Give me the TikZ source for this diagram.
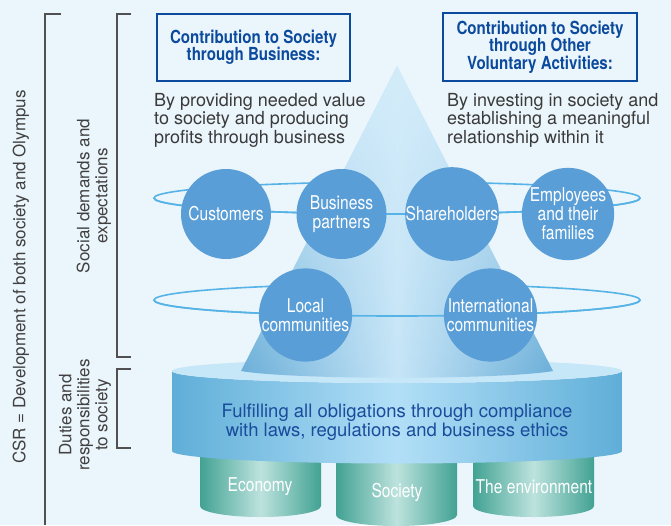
\documentclass[tikz,border=0pt]{standalone}
\usepackage{fontspec}
\setmainfont{TeX Gyre Heros}
\newfontfamily\condf[FakeStretch=0.82]{TeX Gyre Heros}
\newfontfamily\condt[FakeStretch=0.84]{TeX Gyre Heros}
\usetikzlibrary{fadings}
\definecolor{bg}{HTML}{EBF5FC}
\definecolor{brk}{HTML}{505050}
\definecolor{lbltext}{HTML}{404040}
\definecolor{navy}{HTML}{0B4A9C}
\definecolor{bodytext}{HTML}{3A3A3A}
\definecolor{coneedge}{HTML}{6AAED8}
\definecolor{conemid}{HTML}{C6E5F7}
\definecolor{conetop}{HTML}{D3ECFA}
\definecolor{ringc}{HTML}{55B3E6}
\definecolor{circc}{HTML}{5A9ED7}
\definecolor{cyledge}{HTML}{5FAED8}
\definecolor{cylmid}{HTML}{B2DFF7}
\definecolor{cyltop}{HTML}{C6E7F8}
\definecolor{cyltext}{HTML}{1A4C9C}
\definecolor{tealedge}{HTML}{42A293}
\definecolor{tealmid}{HTML}{BDE3DE}
\tikzfading[name=topfade, top color=transparent!0, bottom color=transparent!100]
\tikzset{
  brkline/.style={draw=brk, line width=1.2pt},
  lbl/.style={text=lbltext, font=\fontsize{17}{18}\selectfont, inner sep=0pt, align=center},
  titlebox/.style={draw=navy, line width=2.2pt, fill=bg, text=navy, align=center,
    font=\condt\bfseries\fontsize{18}{17.5}\selectfont, inner sep=0pt},
  bodyblock/.style={text=bodytext, font=\fontsize{18}{18.5}\selectfont, align=left, inner sep=0pt, anchor=north west},
  ringline/.style={draw=ringc, line width=1.6pt},
  circnode/.style={circle, fill=circc, minimum size=90pt, inner sep=0pt, text=white, align=center,
    font=\condf\fontsize{19}{19}\selectfont},
  cylside/.style={left color=cyledge, right color=cyledge, middle color=cylmid},
  tealside/.style={left color=tealedge, right color=tealedge, middle color=tealmid},
  tealtext/.style={text=white, font=\condf\fontsize{19}{19}\selectfont, inner sep=0pt},
  conefill/.style={left color=coneedge, right color=coneedge, middle color=conemid},
}
\begin{document}
\begin{tikzpicture}[x=1pt,y=-1pt]
\fill[bg] (0,0) rectangle (671,525);
\useasboundingbox (0,0) rectangle (671,525);

% brackets
\draw[brkline] (61,14) -- (45,14) -- (45,525);
\draw[brkline] (131,14) -- (117,14) -- (117,357) -- (131,357);
\draw[brkline] (131,369) -- (117,369) -- (117,448) -- (131,448);
\node[lbl, rotate=90] (csr) at (21,277) {CSR = Development of both society and Olympus};
\node[lbl, rotate=90] (socdem) at (94,196) {Social demands and\\expectations};
\node[lbl, rotate=90] (duties) at (85,415) {Duties and\\responsibilities\\to society};

% teal cylinders
\shade[tealside] (200,430) -- (200,506) arc[start angle=180, end angle=0, x radius=60.5, y radius=11] -- (321,430) -- cycle;
\shade[tealside] (336,430) -- (336,515) arc[start angle=180, end angle=0, x radius=60.5, y radius=11] -- (457,430) -- cycle;
\shade[tealside] (473,430) -- (473,506) arc[start angle=180, end angle=0, x radius=60.5, y radius=11] -- (594,430) -- cycle;
\node[tealtext] (econ) at (260,487) {Economy};
\node[tealtext] (soc) at (397,492) {Society};
\node[tealtext] (env) at (534,487) {The environment};

% big cylinder
\shade[cylside] (172,371) -- (172,451) arc[start angle=180, end angle=0, x radius=225, y radius=12.5]
  -- (622,371) arc[start angle=0, end angle=180, x radius=225, y radius=12] -- cycle;
\fill[cyltop] (397,371) ellipse [x radius=225, y radius=12];
\node[text=cyltext, font=\fontsize{18.5}{19}\selectfont, align=center, inner sep=0pt] (oblig) at (397,422)
  {Fulfilling all obligations through compliance\\with laws, regulations and business ethics};

% rings (back)
\draw[ringline] (397,198) ellipse [x radius=243, y radius=16];
\draw[ringline] (397,300) ellipse [x radius=243, y radius=16];

% cone
\shade[conefill] (397,66) -- (553,371) .. controls (501,380) and (293,380) .. (241,371) -- cycle;
\fill[conetop, path fading=topfade] (397,66) -- (553,371) .. controls (501,380) and (293,380) .. (241,371) -- cycle;

% rings (front)
\begin{scope}
\clip (0,198) rectangle (671,260);
\draw[ringline] (397,198) ellipse [x radius=243, y radius=16];
\end{scope}
\begin{scope}
\clip (0,300) rectangle (671,350);
\draw[ringline] (397,300) ellipse [x radius=243, y radius=16];
\end{scope}

% circles
\node[circnode] (cust) at (226,214) {Customers};
\node[circnode] (bp) at (341.5,214) {Business\\partners};
\node[circnode] (sh) at (452,214) {Shareholders};
\node[circnode] (emp) at (568,214) {Employees\\and their\\families};
\node[circnode] (local) at (305.5,315) {Local\\communities};
\node[circnode] (intl) at (490.5,315) {International\\communities};

% title boxes
\node[titlebox, minimum width=193pt, minimum height=67pt] (tb1) at (253.5,47.5) {Contribution to Society\\through Business:};
\node[titlebox, minimum width=194pt, minimum height=68pt] (tb2) at (540,47) {Contribution to Society\\through Other\\Voluntary Activities:};

% body text
\node[bodyblock] (body1) at (154,93) {By providing needed value\\to society and producing\\profits through business};
\node[bodyblock] (body2) at (447,93) {By investing in society and\\establishing a meaningful\\relationship within it};
\end{tikzpicture}
\end{document}
